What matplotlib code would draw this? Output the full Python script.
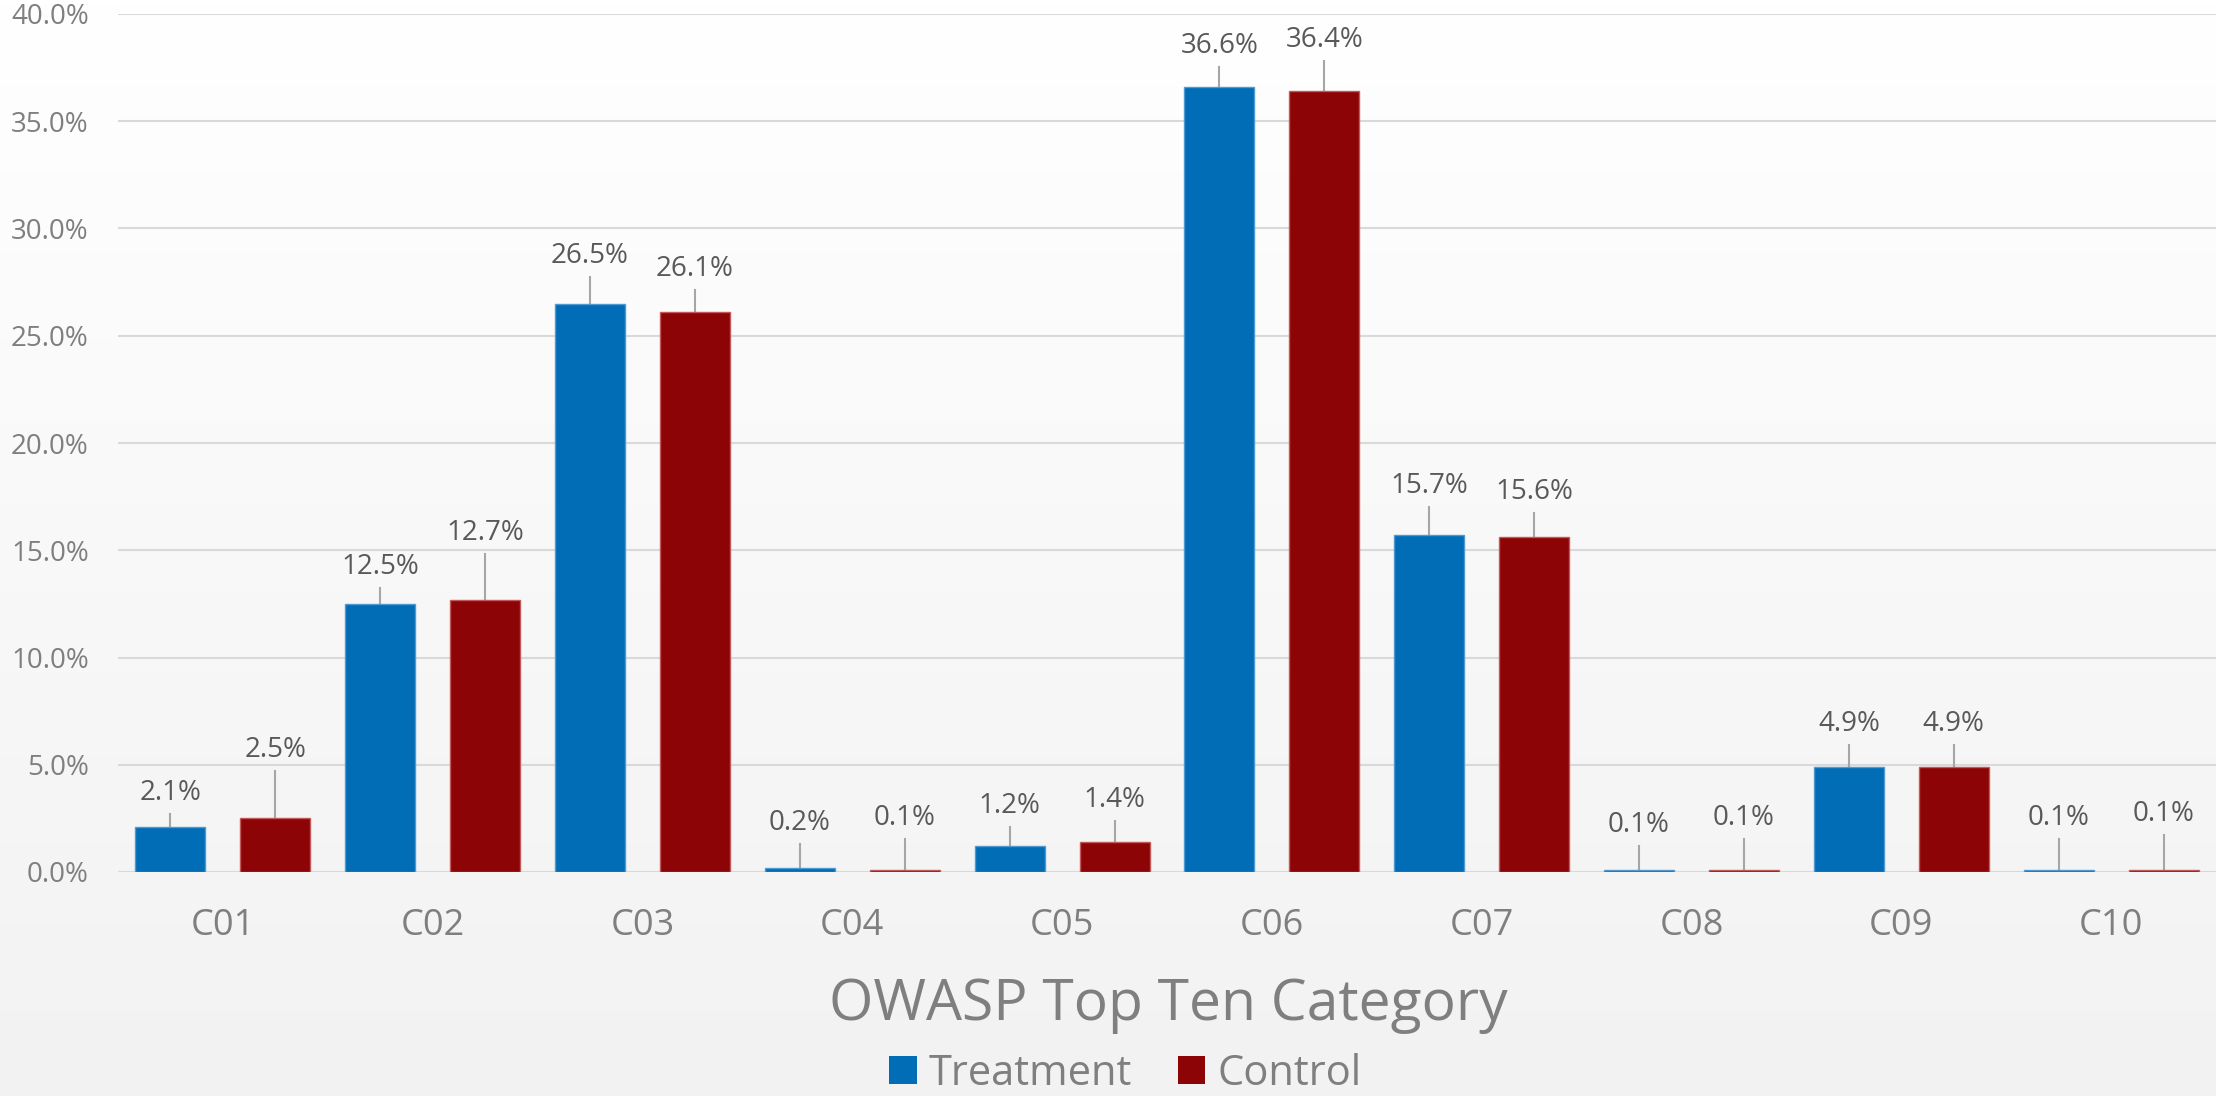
import matplotlib.pyplot as plt
import numpy as np
from matplotlib.colors import LinearSegmentedColormap
from matplotlib.patches import Patch

plt.rcParams['font.family'] = ['Open Sans', 'DejaVu Sans']

categories = ['C01', 'C02', 'C03', 'C04', 'C05', 'C06', 'C07', 'C08', 'C09', 'C10']
treatment = [2.1, 12.5, 26.5, 0.2, 1.2, 36.6, 15.7, 0.1, 4.9, 0.1]
control = [2.5, 12.7, 26.1, 0.1, 1.4, 36.4, 15.6, 0.1, 4.9, 0.1]
# how far above each bar its label sits (percentage points)
treatment_lift = [1.6, 1.7, 2.2, 2.1, 1.9, 1.9, 2.3, 2.1, 2.0, 2.4]
control_lift = [3.2, 3.1, 2.0, 2.4, 1.95, 2.4, 2.1, 2.4, 2.0, 2.6]

blue = '#006db6'
red = '#8c0406'
grey_text = '#7f7f7f'
label_text = '#595959'

fig = plt.figure(figsize=(22.16, 10.96), dpi=100)

# soft vertical background gradient
bg = fig.add_axes([0, 0, 1, 1], zorder=-10)
grad = np.linspace(0, 1, 256).reshape(-1, 1)
cmap = LinearSegmentedColormap.from_list('bg', ['#ffffff', '#f2f2f2'])
bg.imshow(grad, aspect='auto', cmap=cmap, extent=[0, 1, 0, 1])
bg.axis('off')

ax = fig.add_axes([118 / 2216, 1 - 872 / 1096, 1 - 118 / 2216, (872 - 14) / 1096])
ax.patch.set_alpha(0)

x = np.arange(len(categories))
w = 1 / 3
ax.bar(x - 0.25, treatment, w, color=blue, edgecolor='#4f9ad3', linewidth=1, zorder=3)
ax.bar(x + 0.25, control, w, color=red, edgecolor='#c25a5a', linewidth=1, zorder=3)

for xs, vals, lifts in [(x - 0.25, treatment, treatment_lift), (x + 0.25, control, control_lift)]:
    for xi, v, lift in zip(xs, vals, lifts):
        ly = v + lift
        if lift > 1.0:
            ax.plot([xi, xi], [v, ly - 0.98], color='#a6a6a6', lw=1.5, zorder=2)
        ax.text(xi, ly, f'{v:.1f}%', ha='center', va='center', fontsize=20, color=label_text)

ax.set_xlim(-0.5, len(categories) - 0.5)
ax.set_ylim(0, 40)
ax.set_yticks(np.arange(0, 41, 5))
ax.set_yticklabels([f'{t:.1f}%' for t in np.arange(0, 41, 5)])
ax.set_xticks(x)
ax.set_xticklabels(categories)
ax.tick_params(axis='y', length=0, pad=21, labelsize=20, labelcolor=grey_text)
ax.tick_params(axis='x', length=0, pad=26, labelsize=26, labelcolor=grey_text)
ax.yaxis.grid(True, color='#d9d9d9', lw=1.5, zorder=0)
for s in ax.spines.values():
    s.set_visible(False)

fig.text(0.527, 1 - 1006 / 1096, 'OWASP Top Ten Category', ha='center', va='center',
         fontsize=41, color=grey_text)

handles = [Patch(facecolor=blue, label='Treatment'), Patch(facecolor=red, label='Control')]
leg = fig.legend(handles=handles, loc='center', bbox_to_anchor=(0.508, 1 - 1074 / 1096),
                 ncol=2, frameon=False, fontsize=30, handlelength=0.65, handleheight=0.65,
                 handletextpad=0.3, columnspacing=1.1, borderpad=0)
for t in leg.get_texts():
    t.set_color(grey_text)

fig.savefig('out.png', dpi=100)
